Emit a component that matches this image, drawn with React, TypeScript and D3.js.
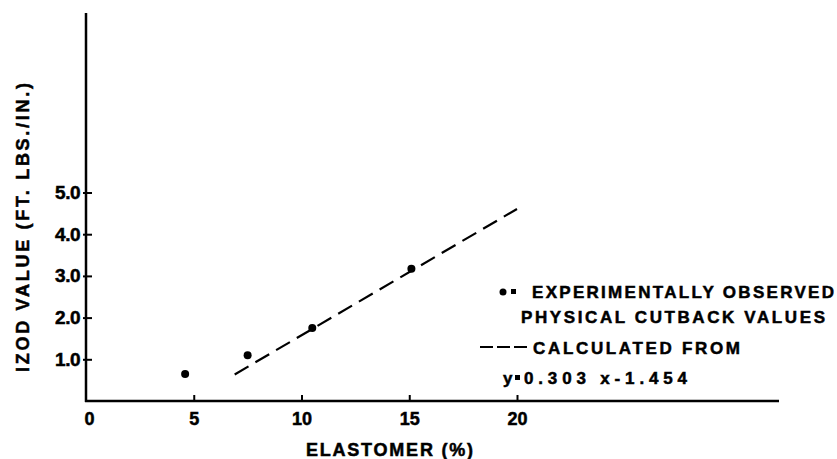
import { useEffect, useRef } from 'react';
import * as d3 from 'd3';

// Observed physical cutback values (elastomer %, izod ft.lbs./in.)
const observedX = [4.6, 7.5, 10.5, 15.1];
const observedY = [0.65, 1.1, 1.75, 3.17];

// Calculated line y = 0.303 x - 1.454, drawn over this x range
const fitSlope = 0.303;
const fitIntercept = -1.454;
const fitRange = [6.9, 20];

const xTicks = [0, 5, 10, 15, 20];
const yTicks = [1, 2, 3, 4, 5];

const W = 837;
const H = 459;
const FONT = '"Liberation Sans", Arial, sans-serif';

// heavy lettering like the stencil originals
function letter(sel: any, size: number) {
  return sel
    .attr('font-family', FONT)
    .attr('font-weight', 'bold')
    .attr('font-size', size)
    .attr('fill', '#000')
    .attr('stroke', '#000')
    .attr('stroke-width', 0.5);
}

export default function App() {
  const ref = useRef<SVGSVGElement>(null);

  useEffect(() => {
    if (!ref.current) return;
    const svg = d3.select(ref.current);
    svg.selectAll('*').remove();

    const x = d3.scaleLinear().domain([0, 20]).range([86, 517]);
    const y = d3.scaleLinear().domain([0, 5]).range([401, 192.5]);

    // axis lines (longer than the data range)
    svg.append('line')
      .attr('x1', x(0)).attr('x2', x(0))
      .attr('y1', 13).attr('y2', y(0) + 1)
      .attr('stroke', '#000').attr('stroke-width', 2.5);
    svg.append('line')
      .attr('x1', x(0) - 1).attr('x2', 779)
      .attr('y1', y(0)).attr('y2', y(0))
      .attr('stroke', '#000').attr('stroke-width', 2.5);

    // x axis ticks + labels
    const gx = svg.append('g')
      .attr('transform', `translate(0,${y(0)})`)
      .call(d3.axisBottom(x).tickValues(xTicks).tickSize(-6).tickPadding(11).tickFormat(d3.format('d')));
    gx.select('.domain').remove();
    gx.selectAll('.tick line').attr('stroke', '#000').attr('stroke-width', 2)
      .filter((d: any) => d === 0).remove();
    letter(gx.selectAll('text'), 18)
      .attr('dx', (d: any) => (d === 0 ? 3 : 0));

    // y axis ticks + labels
    const gy = svg.append('g')
      .attr('transform', `translate(${x(0)},0)`)
      .call(d3.axisLeft(y).tickValues(yTicks).tickSize(-6).tickPadding(6).tickFormat(d3.format('.1f')));
    gy.select('.domain').remove();
    gy.selectAll('.tick line').attr('x1', -3).attr('stroke', '#000').attr('stroke-width', 2);
    letter(gy.selectAll('text'), 19).attr('letter-spacing', -0.5);

    // axis titles
    letter(svg.append('text'), 18)
      .attr('x', 306).attr('y', 456)
      .attr('textLength', 167).attr('lengthAdjust', 'spacing')
      .text('ELASTOMER (%)');
    letter(svg.append('text'), 18)
      .attr('transform', 'translate(29,372) rotate(-90)')
      .attr('textLength', 289).attr('lengthAdjust', 'spacing')
      .text('IZOD VALUE (FT. LBS./IN.)');

    // calculated line
    const line = d3.line<number>()
      .x(d => x(d))
      .y(d => y(fitSlope * d + fitIntercept));
    svg.append('path')
      .datum(fitRange)
      .attr('d', line)
      .attr('fill', 'none')
      .attr('stroke', '#000')
      .attr('stroke-width', 2.2)
      .attr('stroke-dasharray', '16,8');

    // observed points
    svg.selectAll('.pt')
      .data(observedX.map((v, i) => [v, observedY[i]]))
      .join('circle')
      .attr('class', 'pt')
      .attr('cx', d => x(d[0]))
      .attr('cy', d => y(d[1]))
      .attr('r', 4)
      .attr('fill', '#000');

    // legend
    const lg = svg.append('g');
    lg.append('circle').attr('cx', 503).attr('cy', 292).attr('r', 3.5).attr('fill', '#000');
    lg.append('rect').attr('x', 511).attr('y', 289).attr('width', 5).attr('height', 5).attr('fill', '#000');
    letter(lg.append('text'), 17).attr('x', 532).attr('y', 298)
      .attr('textLength', 302).attr('lengthAdjust', 'spacing')
      .text('EXPERIMENTALLY OBSERVED');
    letter(lg.append('text'), 17).attr('x', 521).attr('y', 323)
      .attr('textLength', 304).attr('lengthAdjust', 'spacing')
      .text('PHYSICAL CUTBACK VALUES');
    lg.append('line')
      .attr('x1', 480).attr('x2', 527).attr('y1', 347).attr('y2', 347)
      .attr('stroke', '#000').attr('stroke-width', 2.2)
      .attr('stroke-dasharray', '13,4');
    letter(lg.append('text'), 17).attr('x', 533).attr('y', 354)
      .attr('textLength', 207).attr('lengthAdjust', 'spacing')
      .text('CALCULATED FROM');
    letter(lg.append('text'), 17).attr('x', 503).attr('y', 384)
      .text('y');
    lg.append('rect').attr('x', 515).attr('y', 375).attr('width', 5).attr('height', 5).attr('fill', '#000');
    letter(lg.append('text'), 17).attr('x', 524).attr('y', 384)
      .attr('textLength', 163).attr('lengthAdjust', 'spacing')
      .text('0.303 x-1.454');
  }, []);

  return (
    <svg
      ref={ref}
      width={W}
      height={H}
      style={{ position: 'absolute', left: 0, top: 0, background: '#fff' }}
    />
  );
}
